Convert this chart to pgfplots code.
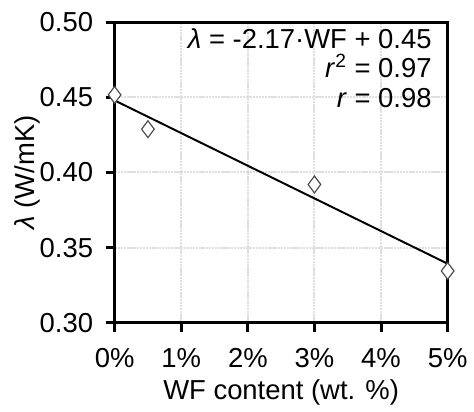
\documentclass[border={4pt 0pt 0pt 3pt}]{standalone}
\usepackage{fontspec}
\setmainfont{Liberation Sans}
\usepackage{pgfplots}
\pgfplotsset{compat=1.18}

\begin{document}
\begin{tikzpicture}
\begin{axis}[
  scale only axis,
  width=170pt, height=153.5pt,
  xmin=0, xmax=5, ymin=0.30, ymax=0.50,
  xtick={0,1,2,3,4,5},
  xticklabels={0\%,1\%,2\%,3\%,4\%,5\%},
  ytick={0.30,0.35,0.40,0.45,0.50},
  /pgf/number format/assume math mode=true,
  y tick label style={xshift=-3pt},
  yticklabel style={/pgf/number format/.cd, fixed, fixed zerofill, precision=2},
  tick label style={font=\fontsize{14}{16}\selectfont, text=black},
  x tick label style={yshift=-5pt},
  label style={font=\fontsize{14}{16}\selectfont},
  axis line style={line width=1.5pt},
  major tick style={line width=1.5pt, black},
  tick align=outside,
  major tick length=4.5pt,
  xtick pos=bottom, ytick pos=left,
  grid=major,
  major grid style={gray!25, line width=1pt, dash pattern=on 1.2pt off 0.4pt},
  xlabel={WF content (wt. \%)},
  ylabel={\textit{λ} (W/mK)},
  xlabel style={yshift=1pt},
  ylabel style={yshift=-7pt},
  clip=false,
]
% linear fit
\addplot[black, line width=1pt, no marks] coordinates {(0,0.4479) (5,0.3393)};
% measurements
\addplot[only marks, mark=diamond*, mark size=4.3pt,
  mark options={fill=white, draw=gray!60!black, line width=0.6pt}]
  coordinates {(0,0.4516) (0.5,0.4288) (3,0.3920) (5,0.3345)};
\node[anchor=north east, align=right, inner sep=0pt,
  font=\fontsize{14}{15}\selectfont]
  at ([xshift=-8pt, yshift=-3pt]rel axis cs:1,1)
  {\textit{λ} = -2.17·WF + 0.45\\ \textit{r}\textsuperscript{2} = 0.97\\ \textit{r} = 0.98};
\end{axis}
\end{tikzpicture}
\end{document}
